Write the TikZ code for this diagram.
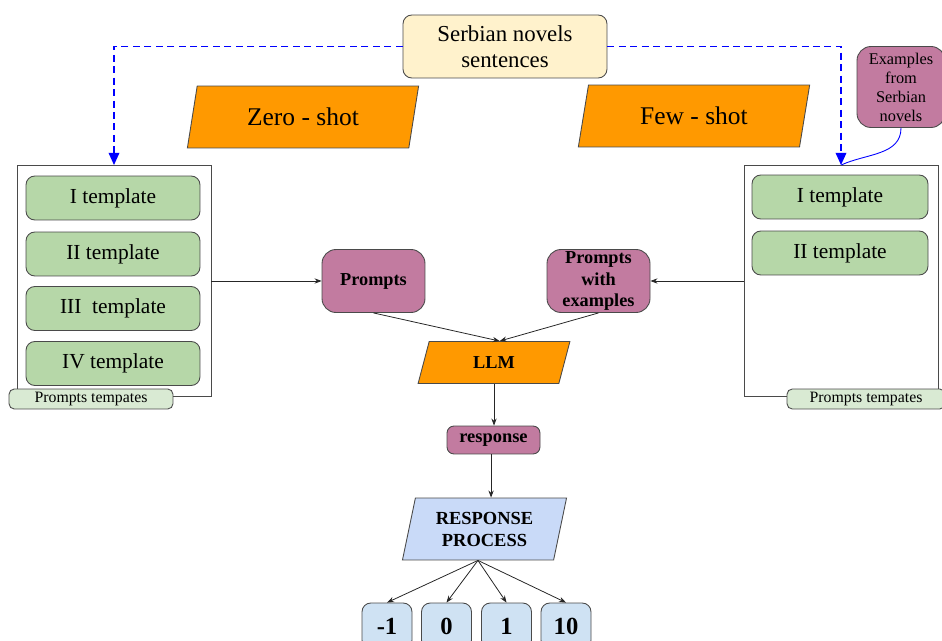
\documentclass[tikz,border=0pt]{standalone}
\usepackage{fontspec}
\setmainfont{Liberation Serif}
\usetikzlibrary{shapes.geometric,arrows.meta}

\definecolor{sentyellow}{HTML}{FFF2CC}
\definecolor{shotorange}{HTML}{FF9900}
\definecolor{promptpurple}{HTML}{C27BA0}
\definecolor{tplgreen}{HTML}{B6D7A8}
\definecolor{lblgreen}{HTML}{D9EAD3}
\definecolor{procblue}{HTML}{C9DAF8}
\definecolor{numblue}{HTML}{CFE2F3}
\definecolor{edge}{HTML}{4A4A4A}

\begin{document}
\begin{tikzpicture}[x=0.02cm, y=-0.02cm,
    rbox/.style={draw=edge, line width=0.5pt, rounded corners=5pt, align=center, inner sep=1pt},
    para/.style={draw=edge, line width=0.5pt, trapezium, trapezium left angle=76,
      trapezium right angle=104, trapezium stretches=true, align=center, inner sep=1pt},
    tpl/.style={rbox, fill=tplgreen, minimum width=3.48cm, minimum height=0.88cm, font=\fontsize{12.2}{14}\selectfont},
    lbl/.style={rbox, fill=lblgreen, rounded corners=3pt, minimum width=3.28cm, minimum height=0.4cm, font=\fontsize{9}{10}\selectfont},
    holder/.style={draw=edge, line width=0.5pt, fill=white, minimum width=3.88cm, minimum height=4.62cm},
    num/.style={rbox, fill=numblue, minimum width=1cm, minimum height=0.92cm, font=\bfseries\fontsize{14}{16}\selectfont},
    link/.style={-{Stealth[length=4pt,width=3pt]}, line width=0.45pt, draw=black!85},
    feed/.style={-{Triangle[length=7pt,width=6pt]}, blue, dashed, line width=1.1pt, dash pattern=on 4pt off 2.5pt}]
  \clip (0,0) rectangle (942,641);

  \node[rbox, fill=sentyellow, minimum width=4.08cm, minimum height=1.26cm,
    font=\fontsize{13}{15}\selectfont] (serb) at (505,46.5) {Serbian novels\\sentences};
  \node[para, fill=shotorange, minimum width=4.64cm, minimum height=1.24cm,
    font=\fontsize{14.5}{16}\selectfont] (zero) at (303,117) {Zero - shot};
  \node[para, fill=shotorange, minimum width=4.64cm, minimum height=1.24cm,
    font=\fontsize{14.5}{16}\selectfont] (few) at (694,116) {Few - shot};
  \node[rbox, fill=promptpurple, rounded corners=8pt, minimum width=1.76cm, minimum height=1.62cm,
    font=\fontsize{9.3}{10.8}\selectfont] (ex) at (901,87) {Examples\\from\\Serbian\\novels};

  % zero-shot templates
  \node[holder] (zholder) at (114,281) {};
  \node[tpl] (z1) at (113,198) {I template};
  \node[tpl] (z2) at (113,254) {II template};
  \node[tpl] (z3) at (113,308.5) {III\ \ template};
  \node[tpl] (z4) at (113,363.5) {IV template};
  \node[lbl] (zlbl) at (91,399) {Prompts tempates};

  % few-shot templates
  \node[holder] (fholder) at (841,281) {};
  \node[tpl, minimum width=3.52cm] (f1) at (840,197) {I template};
  \node[tpl, minimum width=3.52cm] (f2) at (840,253) {II template};
  \node[lbl, minimum width=3.16cm] (flbl) at (866,399) {Prompts tempates};

  \node[rbox, fill=promptpurple, rounded corners=8pt, minimum width=2.06cm, minimum height=1.26cm,
    font=\bfseries\fontsize{10.4}{12.4}\selectfont] (prompts) at (373.5,281) {Prompts};
  \node[rbox, fill=promptpurple, rounded corners=8pt, minimum width=2.06cm, minimum height=1.26cm,
    font=\bfseries\fontsize{10.4}{12.4}\selectfont] (pwe) at (598.5,281) {Prompts\\with\\examples};
  \node[para, fill=shotorange, minimum width=3.04cm, minimum height=0.84cm,
    font=\bfseries\fontsize{10.4}{12}\selectfont] (llm) at (494,362.5) {LLM};
  \node[rbox, fill=promptpurple, rounded corners=4pt, minimum width=1.86cm, minimum height=0.56cm,
    font=\bfseries\fontsize{10.5}{12}\selectfont] (resp) at (493.5,440) {response};
  \node[para, fill=procblue, minimum width=3.3cm, minimum height=1.24cm,
    font=\bfseries\fontsize{10.5}{12.5}\selectfont] (proc) at (484.5,529) {RESPONSE\\PROCESS};

  \node[num] (nm) at (387,626) {-1};
  \node[num] (n0) at (446.5,626) {0};
  \node[num] (n1) at (506.5,626) {1};
  \node[num] (n10) at (566,626) {10};

  \draw[feed] (serb.west) -| (zholder.north);
  \draw[feed] (serb.east) -| (fholder.north);
  \draw[blue, line width=0.5pt] (ex.south) to[out=-90, in=25] (fholder.north);

  \draw[link] (zholder.east) -- (prompts.west);
  \draw[link] (fholder.west) -- (pwe.east);
  \draw[link] (prompts.south) -- (llm.top side);
  \draw[link] (pwe.south) -- (llm.top side);
  \draw[link] (llm.south) -- (llm.south |- resp.north);
  \draw[link] (resp.south -| proc.top side) -- (proc.top side);
  \foreach \n in {nm,n0,n1,n10}
    \draw[link] (proc.bottom side) -- (\n.north);
\end{tikzpicture}
\end{document}
